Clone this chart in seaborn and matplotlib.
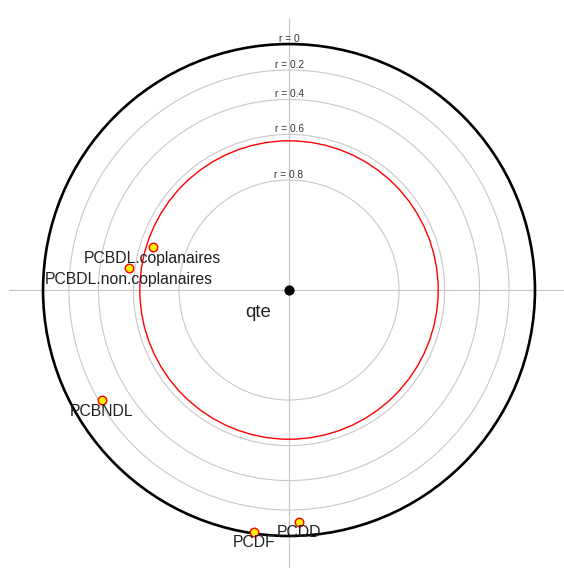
import numpy as np
import pandas as pd
import matplotlib
matplotlib.use("Agg")
import matplotlib.pyplot as plt
from matplotlib.patches import Circle
import seaborn as sns

# focused PCA: correlation of each variable with the dependent variable "qte"
variables = ["PCBDL.coplanaires", "PCBDL.non.coplanaires", "PCBNDL", "PCDF", "PCDD"]
corr_qte = [0.663, 0.567, 0.22, 0.014, 0.11]
angle_deg = [162.6, 172.3, 210.4, 261.8, 272.4]
r_ticks = [0, 0.2, 0.4, 0.6, 0.8]
r_threshold = 0.632
dependent = "qte"

sns.set_theme(style="white")
plt.rcParams["font.family"] = ["Liberation Sans", "DejaVu Sans"]


def radius(r):
    # distance to the centre grows as sqrt(1 - r)
    return np.sqrt(1 - np.abs(np.asarray(r, dtype=float)))


df = pd.DataFrame({"var": variables, "r": corr_qte, "angle": angle_deg})
df["dist"] = radius(df["r"])
df["x"] = df["dist"] * np.cos(np.radians(df["angle"]))
df["y"] = df["dist"] * np.sin(np.radians(df["angle"]))

fig = plt.figure(figsize=(5.64, 5.68), dpi=100)
ax = fig.add_axes([0, 0, 1, 1])
ax.set_xlim(-1.175, 1.118)
ax.set_ylim(-1.130, 1.179)
ax.set_aspect("equal")
ax.axis("off")

# axes cross
ax.plot([-1.14, 1.2], [0, 0], color="#c8c8c8", lw=0.9, zorder=1)
ax.plot([0, 0], [-1.2, 1.105], color="#c8c8c8", lw=0.9, zorder=1)

for r in r_ticks:
    rad = float(radius(r))
    if r == 0:
        ax.add_patch(Circle((0, 0), rad, fill=False, color="black", lw=1.9, zorder=2))
    else:
        ax.add_patch(Circle((0, 0), rad, fill=False, color="#c8c8c8", lw=0.8, zorder=2))
    ax.text(0, rad + 0.022, f"r = {r:g}", ha="center", va="center",
            fontsize=7.3, color="#333333", zorder=4)

ax.add_patch(Circle((0, 0), float(radius(r_threshold)), fill=False,
                    color="red", lw=1.0, zorder=3))

ax.scatter([0], [0], s=40, color="black", zorder=5)
ax.text(-0.125, -0.09, dependent, ha="center", va="center", fontsize=13.5,
        color="#222222", zorder=5)

sns.scatterplot(data=df, x="x", y="y", s=38, color="#ffee00", edgecolor="red",
                linewidth=1.0, ax=ax, zorder=6, legend=False)
for _, row in df.iterrows():
    ax.annotate(row["var"], (row["x"], row["y"]), xytext=(0, -8),
                textcoords="offset points", ha="center", va="center",
                fontsize=11.3, color="#202020", zorder=7)

fig.savefig("out.png", dpi=100)
